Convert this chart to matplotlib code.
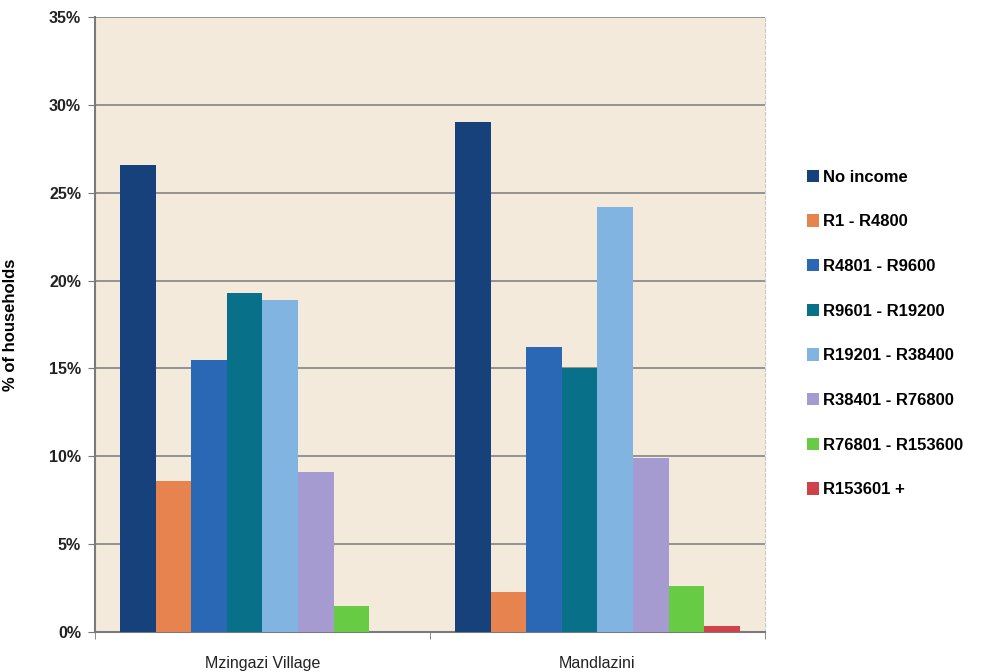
import numpy as np
import matplotlib.pyplot as plt
from matplotlib.patches import Patch

plt.rcParams['font.family'] = ['Liberation Sans', 'DejaVu Sans']

# household income shares (%) per settlement
areas = ['Mzingazi Village', 'Mandlazini']
brackets = ['No income', 'R1 - R4800', 'R4801 - R9600', 'R9601 - R19200',
            'R19201 - R38400', 'R38401 - R76800', 'R76801 - R153600', 'R153601 +']
mzingazi = [26.6, 8.6, 15.5, 19.3, 18.9, 9.1, 1.5, 0.0]
mandlazini = [29.0, 2.3, 16.2, 15.0, 24.2, 9.9, 2.6, 0.35]
colors = ['#17417A', '#E6834F', '#2A68B5', '#087189',
          '#82B4E2', '#A69BD0', '#67CB44', '#CE4349']

values = np.array([mzingazi, mandlazini])
n = len(brackets)
width = 0.85 / n
x = np.arange(len(areas))

fig = plt.figure(figsize=(9.85, 6.72), dpi=100)
ax = fig.add_axes([0.0964, 0.0595, 0.6802, 0.9152])
ax.set_facecolor('#F4EADC')

for i in range(n):
    offs = (i - (n - 1) / 2) * width
    ax.bar(x + offs, values[:, i], width=width, color=colors[i], zorder=3)

ax.set_xlim(-0.5, 1.5)
ax.set_ylim(0, 35)
ax.set_yticks(np.arange(0, 36, 5))
ax.set_yticklabels([f'{v}%' for v in range(0, 36, 5)], fontsize=11.5,
                   fontweight='bold', color='#222222')
ax.yaxis.grid(True, color='#8C8C8C', linewidth=1.3, zorder=1)

ax.set_xticks(x)
ax.set_xticklabels(areas, fontsize=11.5, color='#222222')
ax.tick_params(axis='x', length=0, pad=17)
ax.set_xticks([-0.5, 0.5, 1.5], minor=True)
ax.tick_params(axis='x', which='minor', length=5, color='#777777')
ax.tick_params(axis='y', length=5, color='#777777', pad=5)

for side in ['left', 'bottom']:
    ax.spines[side].set_color('#7A7A7A')
    ax.spines[side].set_linewidth(1.5)
ax.spines['top'].set_visible(False)
ax.spines['right'].set_color('#C8C8C8')
ax.spines['right'].set_linestyle((0, (3, 2)))

ax.set_ylabel('% of households', fontsize=12, fontweight='bold')
ax.yaxis.set_label_coords(-0.115, 0.5)

handles = [Patch(facecolor=c, label=b) for c, b in zip(colors, brackets)]
fig.legend(handles=handles, loc='upper left', bbox_to_anchor=(0.804, 0.77),
           frameon=False, handlelength=0.75, handleheight=0.75,
           handletextpad=0.2, labelspacing=1.78, prop={'weight': 'bold', 'size': 12})

fig.savefig('out.png', dpi=100, facecolor='white')
